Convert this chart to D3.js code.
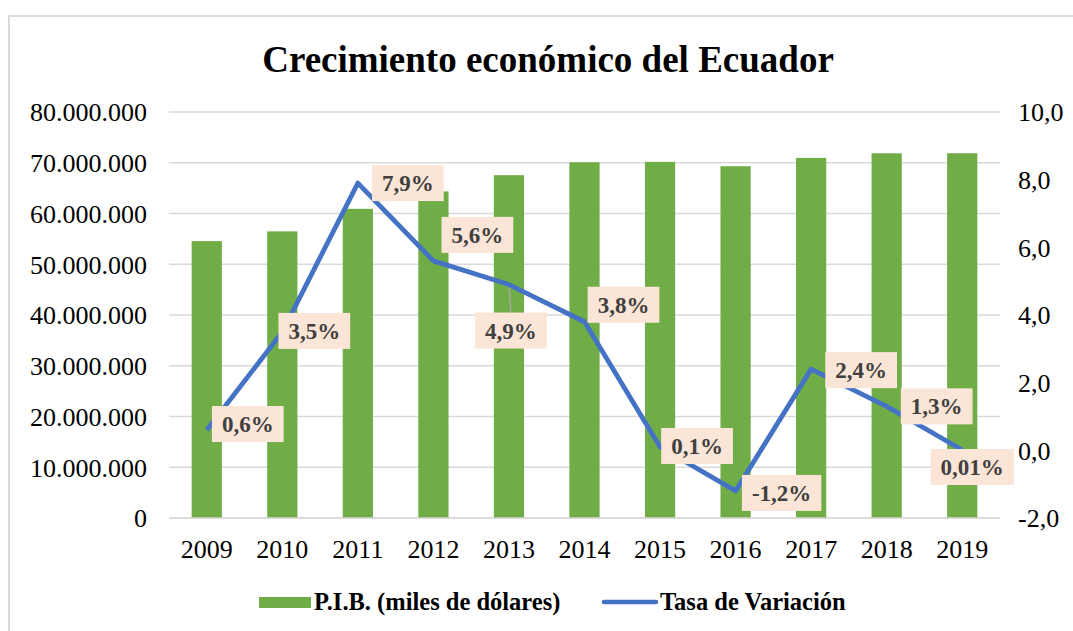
<!DOCTYPE html>
<html>
<head>
<meta charset="utf-8">
<script src="https://cdn.jsdelivr.net/npm/d3@7"></script>
<style>
  body { margin: 0; background: #fff; }
  svg { display: block; }
  text { font-family: "Liberation Serif", "Times New Roman", serif; }
</style>
</head>
<body>
<script>
// data
var years = ['2009','2010','2011','2012','2013','2014','2015','2016','2017','2018','2019'];
var pib = [54557732, 56481055, 60925064, 64362433, 67546128, 70105362, 70174677, 69314066, 70955691, 71870517, 71879217];
var tasa = [0.6, 3.5, 7.9, 5.6, 4.9, 3.8, 0.1, -1.2, 2.4, 1.3, 0.01];
var tasaLabels = ['0,6%','3,5%','7,9%','5,6%','4,9%','3,8%','0,1%','-1,2%','2,4%','1,3%','0,01%'];
var leftTicks = [0, 10000000, 20000000, 30000000, 40000000, 50000000, 60000000, 70000000, 80000000];
var rightTicks = [-2, 0, 2, 4, 6, 8, 10];

// where each data label sits relative to its point
var labelOffsets = [[41,-6],[32,-1],[50,0],[44,-26],[2,46],[39,-17],[37,-1],[46,2],[50,1],[50,0],[10,17]];

(function(){
var W = 1073, H = 631;
var mLeft = 169, mRight = 1000, mTop = 112, mBottom = 518;

var svg = d3.select('body').append('svg')
  .attr('width', W).attr('height', H);

svg.append('rect')
  .attr('x', 9).attr('y', 16)
  .attr('width', W + 20).attr('height', H + 20)
  .attr('fill', '#fff')
  .attr('stroke', '#d9d9d9').attr('stroke-width', 2);

svg.append('text')
  .attr('x', 548).attr('y', 72)
  .attr('text-anchor', 'middle')
  .attr('font-size', 37).attr('font-weight', 'bold')
  .attr('fill', '#000')
  .text('Crecimiento económico del Ecuador');

var x = d3.scaleBand().domain(years).range([mLeft, mRight]).paddingInner(0.6).paddingOuter(0.3);
var y = d3.scaleLinear().domain([0, 80000000]).range([mBottom, mTop]);
var y2 = d3.scaleLinear().domain([-2, 10]).range([mBottom, mTop]);

var fmtL = function(v){ return d3.format(',')(v).replace(/,/g, '.'); };
var fmtR = function(v){ return d3.format('.1f')(v).replace('.', ',').replace('\u2212', '-'); };

// gridlines
svg.append('g').selectAll('line')
  .data(leftTicks).enter().append('line')
  .attr('x1', mLeft).attr('x2', mRight)
  .attr('y1', d => y(d)).attr('y2', d => y(d))
  .attr('stroke', '#d9d9d9').attr('stroke-width', 1.5);

// left axis
var ax = svg.append('g').attr('transform', 'translate(' + (mLeft - 22) + ',0)')
  .call(d3.axisLeft(y).tickValues(leftTicks).tickFormat(fmtL).tickSize(0));
ax.select('.domain').remove();
ax.selectAll('text').attr('font-size', 26).attr('fill', '#000')
  .attr('font-family', '"Liberation Serif", serif').attr('dy', '0.34em').attr('x', 0);

// right axis
var ar = svg.append('g').attr('transform', 'translate(' + (mRight + 18) + ',0)')
  .call(d3.axisRight(y2).tickValues(rightTicks).tickFormat(fmtR).tickSize(0));
ar.select('.domain').remove();
ar.selectAll('text').attr('font-size', 26).attr('fill', '#000')
  .attr('font-family', '"Liberation Serif", serif').attr('dy', '0.34em').attr('x', 0);

// x axis
var axx = svg.append('g').attr('transform', 'translate(0,' + mBottom + ')')
  .call(d3.axisBottom(x).tickSize(0));
axx.select('.domain').remove();
axx.selectAll('text').attr('font-size', 26).attr('fill', '#000')
  .attr('font-family', '"Liberation Serif", serif').attr('y', 22).attr('dy', '0.71em');

// bars
svg.append('g').selectAll('rect')
  .data(pib).enter().append('rect')
  .attr('x', (d, i) => x(years[i]))
  .attr('y', d => y(d))
  .attr('width', x.bandwidth())
  .attr('height', d => y(0) - y(d))
  .attr('fill', '#70ad47');

// axis base line
svg.append('line')
  .attr('x1', mLeft).attr('x2', mRight)
  .attr('y1', mBottom).attr('y2', mBottom)
  .attr('stroke', '#d9d9d9').attr('stroke-width', 1.5);

var cx = function(i){ return x(years[i]) + x.bandwidth() / 2; };

// leader line for 2013 label
var li = 4;
svg.append('line')
  .attr('x1', cx(li)).attr('x2', cx(li) + labelOffsets[li][0])
  .attr('y1', y2(tasa[li])).attr('y2', y2(tasa[li]) + labelOffsets[li][1] - 18)
  .attr('stroke', '#a6a6a6').attr('stroke-width', 1.5);

// line
var line = d3.line().x((d, i) => cx(i)).y(d => y2(d));
svg.append('path')
  .datum(tasa)
  .attr('d', line)
  .attr('fill', 'none')
  .attr('stroke', '#4472c4')
  .attr('stroke-width', 4.8)
  .attr('stroke-linejoin', 'round');

// data labels
var lab = svg.append('g').selectAll('g')
  .data(tasa).enter().append('g')
  .attr('transform', (d, i) => 'translate(' + (cx(i) + labelOffsets[i][0]) + ',' + (y2(d) + labelOffsets[i][1]) + ')');

lab.append('text')
  .attr('text-anchor', 'middle')
  .attr('dy', '0.35em')
  .attr('font-size', 23).attr('font-weight', 'bold')
  .attr('fill', '#404040')
  .text((d, i) => tasaLabels[i]);

lab.each(function(){
  var g = d3.select(this);
  var bb = g.select('text').node().getBBox();
  g.insert('rect', 'text')
    .attr('x', bb.x - 10).attr('y', -18)
    .attr('width', bb.width + 20).attr('height', 36)
    .attr('fill', '#fbe5d6');
});

// legend
var leg = svg.append('g');
leg.append('rect').attr('x', 259).attr('y', 597).attr('width', 52).attr('height', 11).attr('fill', '#70ad47');
leg.append('text').attr('x', 314).attr('y', 610)
  .attr('font-size', 24.5).attr('font-weight', 'bold').attr('fill', '#000')
  .text('P.I.B. (miles de dólares)');
leg.append('line').attr('x1', 604).attr('x2', 656).attr('y1', 602).attr('y2', 602)
  .attr('stroke', '#4472c4').attr('stroke-width', 4.5).attr('stroke-linecap', 'round');
leg.append('text').attr('x', 660).attr('y', 610)
  .attr('font-size', 24.5).attr('font-weight', 'bold').attr('fill', '#000')
  .text('Tasa de Variación');
})();
</script>
</body>
</html>
